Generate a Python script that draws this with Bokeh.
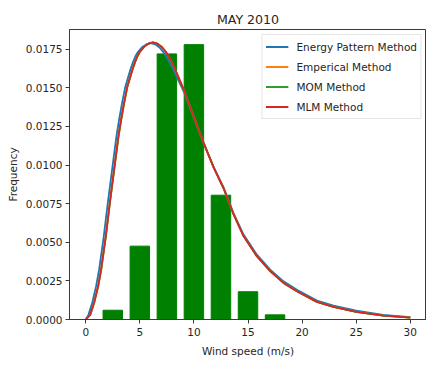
from bokeh.plotting import figure
from bokeh.models import FixedTicker, PrintfTickFormatter, Range1d
from bokeh.embed import file_html
from bokeh.resources import INLINE

# Histogram of observed wind speed (bin centres in m/s, relative frequency)
bin_centers = [2.5, 5.0, 7.5, 10.0, 12.5, 15.0, 17.5]
bin_freq = [0.0006, 0.00475, 0.0172, 0.0178, 0.00805, 0.0018, 0.0003]

# Fitted Weibull curves (wind speed, frequency)
mlm_x = [0, 0.4, 0.77, 1.14, 1.42, 1.85, 2.22, 2.62, 3.02, 3.28, 3.54, 3.85, 4.05,
         4.31, 4.54, 4.77, 5.0, 5.4, 5.8, 6.2, 6.6, 7.0, 7.4, 7.8, 8.13, 9.05, 9.97,
         10.9, 11.82, 12.74, 13.67, 14.59, 15.82, 17.05, 18.28, 19.52, 21.37, 22.9,
         25, 27.5, 30]
mlm_y = [0, 0.0003, 0.00108, 0.00216, 0.00324, 0.0054, 0.00755, 0.00972, 0.01187,
         0.013, 0.01403, 0.01511, 0.01558, 0.01619, 0.01665, 0.01705, 0.01734,
         0.01767, 0.01787, 0.01794, 0.01787, 0.01767, 0.01734, 0.01687, 0.01641,
         0.0149, 0.01317, 0.01144, 0.00985, 0.0085, 0.0068, 0.0054, 0.0041, 0.00313,
         0.00237, 0.00183, 0.00114, 0.00082, 0.0005, 0.00025, 0.00012]

emp_x = [0, 0.42, 0.79, 1.16, 1.44, 1.87, 2.24, 2.64, 3.04, 3.3, 3.56, 3.87, 4.07,
         4.33, 4.56, 4.79, 5.02, 5.42, 5.82, 6.22, 6.6, 7.0, 7.4, 7.8, 8.13, 9.05,
         9.97, 10.9, 11.82, 12.74, 13.67, 14.59, 15.82, 17.05, 18.28, 19.52, 21.37,
         22.9, 25, 27.5, 30]
emp_y = [0, 0.0003, 0.00108, 0.00216, 0.00324, 0.0054, 0.00755, 0.00972, 0.01187,
         0.013, 0.01403, 0.01511, 0.01558, 0.01619, 0.01665, 0.01705, 0.01734,
         0.01767, 0.01787, 0.01794, 0.01787, 0.01767, 0.01734, 0.01687, 0.01641,
         0.0149, 0.01317, 0.01144, 0.00985, 0.0085, 0.0068, 0.0054, 0.0041, 0.00313,
         0.00237, 0.00183, 0.00114, 0.00082, 0.0005, 0.00025, 0.00012]

mom_x = [0, 0.41, 0.78, 1.15, 1.43, 1.86, 2.23, 2.63, 3.03, 3.29, 3.55, 3.86, 4.06,
         4.32, 4.55, 4.78, 5.01, 5.41, 5.81, 6.21, 6.6, 7.0, 7.4, 7.8, 8.13, 9.05,
         9.97, 10.9, 11.82, 12.74, 13.67, 14.59, 15.82, 17.05, 18.28, 19.52, 21.37,
         22.9, 25, 27.5, 30]
mom_y = [0, 0.0003, 0.00108, 0.00216, 0.00324, 0.0054, 0.00755, 0.00972, 0.01187,
         0.013, 0.01403, 0.01511, 0.01558, 0.01619, 0.01665, 0.01705, 0.01734,
         0.01767, 0.01787, 0.01794, 0.01787, 0.01767, 0.01734, 0.01687, 0.01641,
         0.0149, 0.01317, 0.01144, 0.00985, 0.0085, 0.0068, 0.0054, 0.0041, 0.00313,
         0.00237, 0.00183, 0.00114, 0.00082, 0.0005, 0.00025, 0.00012]

epm_x = [0, 0.25, 0.6, 0.96, 1.24, 1.67, 2.04, 2.44, 2.84, 3.1, 3.36, 3.67, 3.87,
         4.13, 4.36, 4.59, 4.84, 5.24, 5.63, 6.02, 6.42, 6.82, 7.22, 7.62, 8.0, 9.05,
         9.97, 10.9, 11.82, 12.74, 13.67, 14.59, 15.82, 17.05, 18.28, 19.52, 21.37,
         22.9, 25, 27.5, 30]
epm_y = [0, 0.0003, 0.00108, 0.00216, 0.00324, 0.0054, 0.00755, 0.00972, 0.01187,
         0.013, 0.01403, 0.01511, 0.01558, 0.01619, 0.01665, 0.01705, 0.01734,
         0.01765, 0.01783, 0.01789, 0.01782, 0.01762, 0.01728, 0.01682, 0.01632,
         0.01478, 0.01308, 0.0114, 0.00988, 0.00856, 0.00688, 0.0055, 0.0042,
         0.00323, 0.00247, 0.00193, 0.00123, 0.0009, 0.00057, 0.0003, 0.00016]

x_ticks = [0, 5, 10, 15, 20, 25, 30]
y_ticks = [0.0, 0.0025, 0.005, 0.0075, 0.01, 0.0125, 0.015, 0.0175]

FONT = "DejaVu Sans"
TEXT = "#262626"
SPINE = "#3a3a3a"

p = figure(width=426, height=365, output_backend="svg", toolbar_location=None,
           x_range=Range1d(-1.5, 31.5), y_range=Range1d(0, 0.01878),
           min_border_left=69, min_border_right=0, min_border_top=29,
           min_border_bottom=46, title="MAY 2010")

p.title.align = "center"
p.title.text_font = FONT
p.title.text_font_size = "12.6px"
p.title.text_font_style = "normal"
p.title.text_color = TEXT
p.title.standoff = 6

p.vbar(x=bin_centers, top=bin_freq, width=1.8, bottom=0, color="#008000")

lw = 1.8
p.line(epm_x, epm_y, line_color="#1f77b4", line_width=lw, line_join="round",
       legend_label="Energy Pattern Method")
p.line(emp_x, emp_y, line_color="#ff7f0e", line_width=lw, line_join="round",
       legend_label="Emperical Method")
p.line(mom_x, mom_y, line_color="#2ca02c", line_width=lw, line_join="round",
       legend_label="MOM Method")
p.line(mlm_x, mlm_y, line_color="#d62728", line_width=lw, line_join="round",
       legend_label="MLM Method")

p.xgrid.visible = False
p.ygrid.visible = False
p.outline_line_color = SPINE
p.outline_line_width = 1
p.background_fill_color = "white"
p.border_fill_color = "white"

p.xaxis.ticker = FixedTicker(ticks=x_ticks)
p.yaxis.ticker = FixedTicker(ticks=y_ticks)
p.yaxis.formatter = PrintfTickFormatter(format="%.4f")
p.xaxis.axis_label = "Wind speed (m/s)"
p.yaxis.axis_label = "Frequency"

for ax in (p.xaxis, p.yaxis):
    ax.axis_line_color = SPINE
    ax.major_tick_line_color = SPINE
    ax.minor_tick_line_color = None
    ax.major_tick_in = 0
    ax.major_tick_out = 4
    ax.major_label_text_font = FONT
    ax.major_label_text_font_size = "10.5px"
    ax.major_label_text_color = TEXT
    ax.axis_label_text_font = FONT
    ax.axis_label_text_font_size = "10.5px"
    ax.axis_label_text_font_style = "normal"
    ax.axis_label_text_color = TEXT
    ax.major_label_standoff = 3
    ax.axis_label_standoff = 4
p.xaxis.major_label_standoff = 4
p.xaxis.axis_label_standoff = 6

p.legend.location = "top_right"
p.legend.margin = 5
p.legend.padding = 3
p.legend.spacing = 3
p.legend.glyph_width = 23
p.legend.glyph_height = 17
p.legend.label_height = 17
p.legend.label_standoff = 8
p.legend.label_text_font = FONT
p.legend.label_text_font_size = "10.5px"
p.legend.label_text_color = TEXT
p.legend.border_line_color = "#cccccc"
p.legend.border_line_width = 1
p.legend.background_fill_alpha = 0.8

open("out.html", "w").write(file_html(p, INLINE))
